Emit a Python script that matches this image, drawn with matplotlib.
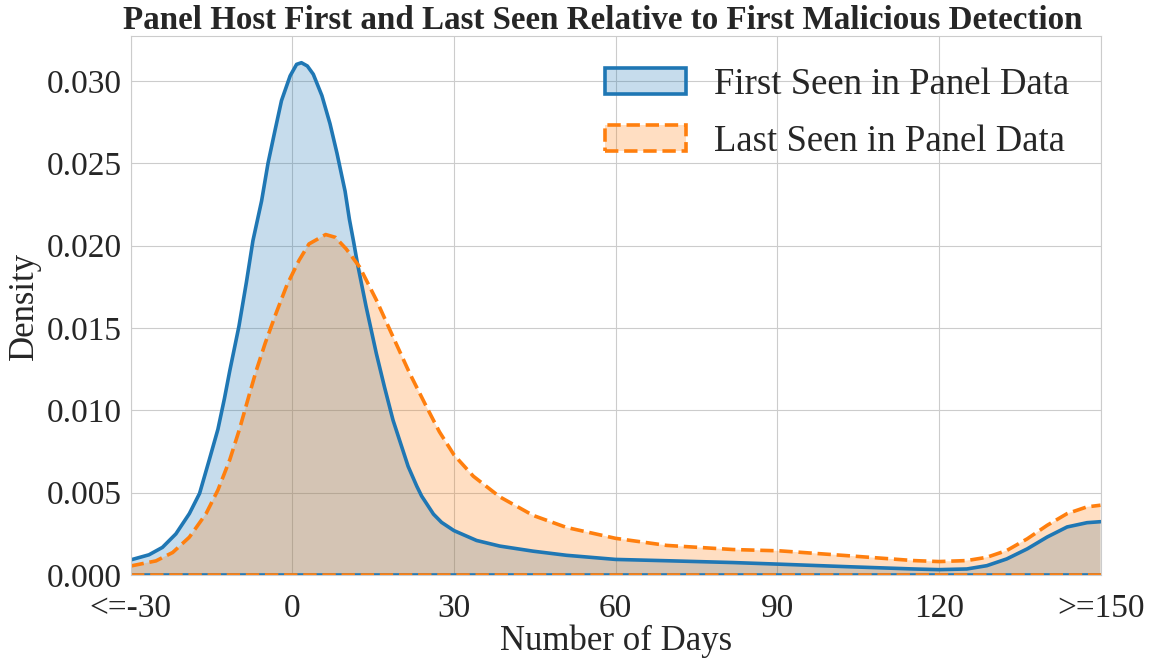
import numpy as np
import matplotlib
matplotlib.use("Agg")
import matplotlib.pyplot as plt
from matplotlib.patches import Patch
import seaborn as sns

# values (days, density)
days_first = [-30, -26.6, -24.1, -21.6, -19.1, -17.2, -15.4, -13.8, -12.6, -11.6, -9.9, -8.5, -7.3, -5.7, -4.5,
              -3.2, -2.0, -0.4, 0.8, 1.7, 2.8, 3.9, 5.5, 7.0, 8.3, 9.8, 10.6, 11.4, 12.1, 13.7, 15.6, 17.1, 18.7,
              20, 21.5, 23.1, 24, 26.2, 27.7, 30, 34.2, 38.5, 44.7, 50.9, 60, 69.5, 81.8, 90.5, 102.9, 115.3, 120,
              125.2, 128.9, 132.6, 136.4, 140.1, 143.8, 147.5, 150]
dens_first = [0.00092, 0.00123, 0.00168, 0.00250, 0.00373, 0.00496, 0.00700, 0.00885, 0.01070, 0.01240, 0.01510,
              0.01780, 0.02030, 0.02270, 0.02500, 0.02700, 0.02880, 0.03030, 0.03100, 0.03110, 0.03090, 0.03040,
              0.02910, 0.02740, 0.02560, 0.02330, 0.02160, 0.02020, 0.01890, 0.01630, 0.01345, 0.01143, 0.00940,
              0.00810, 0.00660, 0.00540, 0.00480, 0.00370, 0.00320, 0.00270, 0.00210, 0.00176, 0.00145, 0.00120,
              0.00095, 0.00087, 0.00076, 0.00066, 0.00051, 0.00037, 0.00033, 0.00037, 0.00057, 0.00098, 0.00159,
              0.00231, 0.00292, 0.00318, 0.00324]

days_last = [-30, -25.3, -22.2, -19.1, -16, -13.8, -11.6, -9.8, -8.2, -6.7, -5, -3, -1, 1.25, 3.1, 6.2, 8, 10,
             12.5, 15.6, 18.7, 21.8, 24.9, 27.3, 30, 33.6, 38.5, 44.7, 50.9, 60, 69.5, 81.8, 90.5, 102.9, 115.3,
             120, 125.2, 128.9, 132.6, 136.4, 140.1, 143.8, 147.5, 150]
dens_last = [0.00055, 0.00086, 0.00137, 0.00230, 0.00373, 0.00516, 0.00700, 0.00885, 0.01070, 0.01240, 0.01410,
             0.01590, 0.01760, 0.01910, 0.02010, 0.02067, 0.02050, 0.01980, 0.01870, 0.01670, 0.01446, 0.01224,
             0.01022, 0.00870, 0.00730, 0.00600, 0.00475, 0.00362, 0.00289, 0.00223, 0.00180, 0.00155, 0.00147,
             0.00118, 0.00088, 0.00082, 0.00088, 0.00108, 0.00149, 0.00220, 0.00302, 0.00373, 0.00414, 0.00424]

xtick_vals = [-30, 0, 30, 60, 90, 120, 150]
xtick_labels = ["<=-30", "0", "30", "60", "90", "120", ">=150"]
ytick_vals = [0, 0.005, 0.010, 0.015, 0.020, 0.025, 0.030]

sns.set_style("whitegrid")
plt.rcParams['font.family'] = ['Liberation Serif', 'DejaVu Serif']

fig, ax = plt.subplots(figsize=(11.56, 6.61), dpi=100)

blue = '#1f77b4'
orange = '#ff7f0e'
lw = 2.6
blue_face = (*matplotlib.colors.to_rgb(blue), 0.25)
orange_face = (*matplotlib.colors.to_rgb(orange), 0.25)

# first seen
ax.fill_between(days_first, dens_first, facecolor=blue_face, edgecolor='none')
ax.plot(days_first, dens_first, color=blue, lw=lw)
ax.plot([days_first[0], days_first[-1]], [0, 0], color=blue, lw=lw)

# last seen (drawn on top, tints the blue line)
ax.fill_between(days_last, dens_last, facecolor=orange_face, edgecolor='none')
ax.plot(days_last, dens_last, color=orange, lw=lw, ls='--')
ax.plot([days_last[0], days_last[-1]], [0, 0], color=orange, lw=lw, ls='--')

ax.set_xlim(-30, 150)
ax.set_ylim(0, 0.0327)
ax.set_xticks(xtick_vals)
ax.set_xticklabels(xtick_labels)
ax.set_yticks(ytick_vals)
ax.yaxis.set_major_formatter(matplotlib.ticker.FormatStrFormatter('%.3f'))
ax.tick_params(axis='y', labelsize=24, pad=3)
ax.tick_params(axis='x', labelsize=24, pad=10)

ax.set_xlabel("Number of Days", fontsize=25, labelpad=0)
ax.set_ylabel("Density", fontsize=25, labelpad=4)
ax.set_title("Panel Host First and Last Seen Relative to First Malicious Detection",
             fontsize=23.8, fontweight='bold', pad=5, x=0.487)

handles = [Patch(facecolor=blue_face, edgecolor=blue, lw=lw, label='First Seen in Panel Data'),
           Patch(facecolor=orange_face, edgecolor=orange, lw=lw, ls='--', label='Last Seen in Panel Data')]
ax.legend(handles=handles, fontsize=26.5, loc='upper right', frameon=False,
          handlelength=2.2, handleheight=0.7, handletextpad=0.75, labelspacing=0.6,
          borderaxespad=0.45)

plt.subplots_adjust(left=0.113, right=0.952, top=0.945, bottom=0.13)
plt.savefig("out.png", dpi=100)
